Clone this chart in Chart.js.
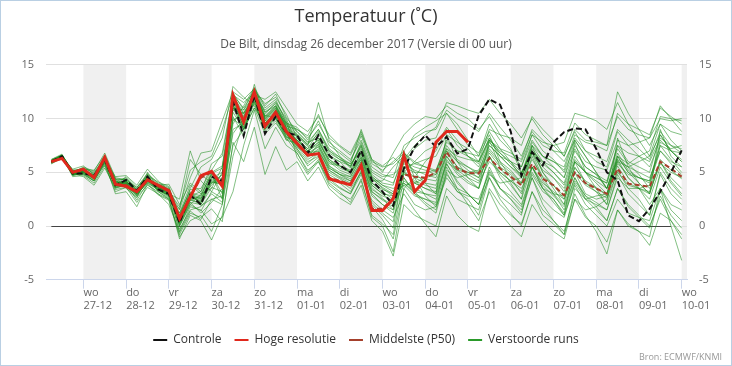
<!DOCTYPE html>
<html>
<head>
<meta charset="utf-8">
<script src="https://cdn.jsdelivr.net/npm/chart.js@4.4.1/dist/chart.umd.min.js"></script>
<style>
html,body{margin:0;padding:0;background:#fff}
#wrap{position:relative;width:732px;height:366px;box-sizing:border-box;border:1px solid #b9cfe3}
#bron{position:absolute;right:9px;bottom:2px;font:9px "Open Sans",sans-serif;color:#999}
</style>
</head>
<body>
<div id="wrap"><canvas id="myChart" width="730" height="364"></canvas><div id="bron">Bron: ECMWF/KNMI</div></div>
<script>
// days shown on the axis (26-12 .. 10-01), runs are 6-hourly from 26-12 06 uur
var dates = ['26-12','27-12','28-12','29-12','30-12','31-12','01-01','02-01','03-01','04-01','05-01','06-01','07-01','08-01','09-01','10-01']
var dayNames = ['di','wo','do','vr','za','zo','ma','di','wo','do','vr','za','zo','ma','di','wo']
var hours = ['06','12','18','00']

var control = [6.0,6.5,4.9,4.9,4.7,6.2,3.8,4.3,3.3,4.6,3.4,3.0, 0.3,2.9,2.0,4.6,4.2,11.6,8.4,12.2,8.6,10.2,8.7, 8.45,6.75,8.45,6.6,5.65,5.0,7.05,4.25,3.2,1.9, 5.35,7.35,8.45,7.35,8.3,6.75,7.2,10.3,11.8,11.3,8.8,4.7,6.9,5.65,7.8,8.75,9.1,9.0,7.2,5.0,4.25,1.0,0.45,1.6,3.2,5.0,7.05]
var hires = [6.0,6.3,5.0,5.3,4.5,6.4,3.9,3.7,3.2,4.3,3.8,3.3, 0.7,2.7,4.7,5.1,3.7,12.2,9.7,12.5,9.3,10.6,8.8, 7.7,6.6,6.75,4.4,4.1,3.85,5.65,1.45,1.45,2.55, 6.6,3.2,4.25,7.8,8.8,8.8,7.8]
var median = [6.0,6.3,5.0,5.2,4.5,6.3,3.9,3.8,3.2,4.3,3.7,3.2, 0.7,2.7,4.5,5.0,3.8,12.0,9.8,12.4,9.4,10.5,8.7, 7.6,6.6,6.8,4.5,4.2,3.9,5.6,1.6,1.6,2.6, 4.8,4.6,4.5,5.0,6.9,5.35,4.95,4.9,6.3,5.35,4.6,3.8,5.8,4.4,3.8,2.85,5.0,4.0,3.5,3.0,5.35,3.95,3.8,3.65,6.0,5.35,4.6]

// verstoorde runs (ensemble members)
var m01 = [6.1,6.6,4.8,4.9,4.3,6.0,3.7,4.2,3.3,4.6,3.4,2.9, 0.6,2.8,2.2,4.2,3.8,11.8,10.0,12.3,9.8,10.8,9.0, 8.0,7.0,7.8,6.0,5.2,4.8,6.6,4.0,3.2,2.5, 5.5,4.5,4.0,3.8,7.0,5.5,4.8,4.2,6.8,5.5,4.8,3.9,6.2,4.6,3.8,2.8,5.4,4.2,3.6,2.8,5.6,4.0,3.5,3.0,6.2,5.2,4.4]
var m02 = [5.9,6.4,5.1,5.4,4.9,6.5,4.2,3.8,2.9,4.1,3.9,3.4, 1.5,4.5,6.8,7.0,9.8,12.5,11.8,12.8,11.0,11.8,9.6, 9.0,8.2,9.5,7.8,7.0,6.2,8.0,5.5,4.8,4.5, 7.5,8.2,8.8,9.0,10.8,10.0,9.5,8.8,10.5,9.2,8.0,6.5,8.8,7.5,7.0,6.8,9.6,8.5,8.0,7.5,10.2,9.0,8.5,8.2,10.0,9.8,10.0]
var m03 = [6.0,6.5,4.6,4.7,4.0,5.6,3.4,3.6,2.6,4.8,3.2,2.5, -1.2,1.0,0.5,-1.3,1.0,6.5,9.8,11.5,10.3,10.1,8.4, 7.2,6.0,6.5,4.8,4.2,3.5,5.0,2.4,1.5,0.8, 3.0,1.5,0.2,-1.0,2.8,1.0,0.0,-0.5,3.5,2.0,1.0,0.2,3.2,1.5,0.5,-0.8,2.5,0.8,0.0,-1.5,1.5,0.2,-0.5,-1.8,1.2,0.5,-0.8]
var m04 = [6.2,6.7,5.0,5.3,5.2,6.6,4.4,4.3,3.6,4.9,4.0,3.6, 0.0,2.0,3.0,3.5,5.5,10.8,10.5,11.6,9.0,10.2,8.0, 8.5,7.5,11.5,8.0,6.5,5.5,7.5,4.5,3.5,2.8, 6.0,7.2,8.0,8.2,10.5,9.5,8.0,6.5,8.5,6.0,4.5,3.0,5.5,3.5,2.2,1.0,3.8,2.0,1.0,0.0,2.5,1.2,0.8,0.5,3.5,2.0,1.5]
var m05 = [5.8,6.3,4.7,5.0,4.5,5.9,3.0,3.2,1.8,3.9,2.9,2.4, -0.8,1.2,0.8,1.6,0.4,7.8,6.0,9.2,4.8,7.4,5.2, 6.0,4.2,5.5,3.5,2.6,2.0,3.8,0.5,-0.5,-2.8, 2.0,1.0,0.5,0.0,3.5,2.5,2.0,1.5,4.8,4.0,4.2,4.5,7.5,6.5,6.0,5.5,8.5,7.8,7.5,7.0,10.5,9.5,9.0,8.5,11.0,10.2,9.5]
var m06 = [6.1,6.4,5.3,5.6,4.8,6.1,4.6,4.7,3.8,5.3,4.2,3.3, 1.2,3.2,1.9,2.5,2.8,9.5,11.2,12.9,11.2,12.3,10.1, 8.8,7.8,8.2,6.6,6.0,5.0,6.8,4.2,4.2,5.5, 6.5,5.0,4.0,3.0,8.5,6.0,4.5,3.5,8.0,5.5,4.0,2.5,7.5,5.0,3.5,2.0,7.8,5.0,3.5,2.0,8.2,5.5,4.0,3.0,9.0,6.5,5.5]
var m07 = [6.0,6.6,4.9,4.6,3.8,5.4,3.5,3.9,2.4,4.0,3.0,2.0, -0.5,1.8,1.5,0.2,0.8,3.2,7.5,10.8,7.2,9.2,7.5, 6.8,5.2,6.0,3.8,3.0,2.5,4.2,1.0,0.2,-0.8, 4.5,3.0,2.0,1.2,5.0,3.2,2.5,1.0,4.5,2.8,2.0,1.0,5.5,3.5,2.5,1.0,6.0,4.0,3.2,2.0,5.2,3.5,2.5,1.0,4.8,3.0,2.0]
var m08 = [5.9,6.5,5.2,5.2,4.4,6.4,4.1,4.5,3.3,4.5,3.8,3.9, 2.0,4.0,3.2,5.8,6.5,12.0,9.0,11.0,8.6,9.6,8.2, 8.2,7.2,8.8,7.0,6.2,5.8,9.0,6.2,5.0,6.8, 8.5,9.5,10.2,10.0,11.2,10.5,10.0,9.0,10.2,8.5,7.2,5.0,7.0,5.5,4.5,3.2,6.0,5.0,4.5,4.0,7.5,6.0,5.5,5.0,8.5,7.0,6.0]
var m09 = [6.0,6.5,4.9,5.0,4.4,6.2,3.8,4.1,3.0,4.3,3.5,3.0, 0.2,2.4,2.8,4.8,2.5,10.2,8.4,12.5,10.4,11.5,10.0, 7.5,6.8,7.0,5.2,4.5,4.0,5.5,3.0,2.0,1.2, 5.0,6.0,7.0,7.5,9.2,8.0,6.5,5.5,8.0,7.2,6.8,6.2,9.0,8.0,7.0,6.0,8.0,6.5,5.0,3.5,6.5,5.0,4.0,3.0,6.0,4.5,3.5]
var m10 = [6.0,6.4,5.0,5.2,4.7,6.3,4.0,4.0,3.2,4.4,3.7,3.2, 0.9,3.5,5.5,6.2,8.2,13.0,12.0,11.2,9.3,10.8,9.5, 7.6,6.5,7.6,5.8,5.6,5.2,7.2,4.6,3.8,3.5, 4.0,3.0,2.5,2.0,5.5,3.5,2.0,0.5,3.2,1.2,0.0,-1.0,2.0,0.5,-0.5,-1.2,2.5,1.5,1.8,2.5,6.0,5.5,6.0,6.5,9.5,8.8,8.5]
var m11 = [6.1,6.5,4.8,5.0,4.6,6.3,4.0,4.2,3.2,4.6,3.6,3.0, 2.5,7.0,4.2,3.2,5.0,11.0,10.8,12.2,11.8,12.5,11.0, 9.5,8.8,10.2,8.5,7.5,6.8,8.8,6.0,5.5,5.8, 6.8,5.8,5.5,5.2,7.8,7.0,6.5,6.0,9.0,8.5,8.2,7.5,10.2,9.0,8.0,6.5,8.8,7.0,6.0,5.5,8.8,7.5,6.5,5.5,8.0,7.0,6.2]
var m12 = [5.9,6.4,4.9,5.1,4.6,6.2,3.9,4.0,3.1,4.5,3.6,3.1, 0.3,2.2,1.2,2.2,3.5,11.2,9.4,13.2,10.0,11.0,9.2, 7.8,6.6,7.4,5.4,4.8,4.4,6.0,3.2,2.4,1.8, 3.8,2.8,2.5,2.2,6.2,4.8,4.0,3.5,6.5,5.0,4.2,3.2,6.5,4.2,3.0,1.5,4.5,2.5,1.5,0.5,3.5,2.0,1.0,0.0,2.5,0.5,-1.2]
var m13 = [6.0,6.6,5.0,5.2,4.5,6.3,3.8,3.9,3.0,4.3,3.4,2.9, 0.4,2.6,2.4,4.4,4.2,11.5,9.6,12.0,9.4,10.4,8.8, 8.0,7.0,8.2,6.4,6.0,5.6,7.6,5.0,4.4,4.0, 6.2,7.5,8.5,9.2,11.5,11.2,10.8,10.5,11.8,10.5,9.5,8.2,10.0,8.5,7.5,6.5,9.0,8.0,7.8,7.5,12.5,10.5,9.0,7.5,9.5,8.0,7.0]
var m14 = [6.0,6.5,5.1,5.3,4.7,6.4,4.1,4.1,3.2,4.5,3.7,3.2, 0.5,2.6,2.6,3.8,4.8,11.0,10.2,12.0,9.6,10.6,8.6, 7.4,6.2,6.8,4.6,4.0,3.2,5.0,2.2,1.2,0.4, 5.2,4.0,3.5,3.0,6.0,5.2,5.0,5.2,7.5,6.5,5.5,4.5,6.8,4.5,3.0,2.0,5.0,3.0,2.5,2.8,6.5,5.8,6.5,7.0,10.2,10.0,9.8]
var m15 = [5.9,6.4,4.8,4.8,4.2,5.8,3.6,3.7,2.8,4.2,3.3,2.7, -1.0,0.5,1.0,-0.5,2.0,7.5,9.0,11.0,9.6,10.4,8.2, 6.8,5.0,6.2,4.0,3.2,2.2,4.4,0.8,0.0,-2.4, 3.5,2.0,1.5,1.8,4.8,3.5,3.0,2.0,5.5,3.5,2.5,1.5,4.5,2.0,0.5,-0.5,3.0,1.0,-0.5,-2.6,1.5,0.0,-0.5,-1.0,3.5,1.5,0.5]
var m16 = [6.1,6.6,5.0,5.1,4.5,6.2,3.9,4.2,3.0,4.4,3.6,3.2, 1.8,5.2,6.0,6.5,9.0,12.2,11.5,12.4,10.6,11.2,9.2, 8.5,7.6,9.0,7.2,6.4,5.4,7.8,5.2,4.6,4.8, 5.8,5.2,4.8,4.5,7.2,6.0,5.5,4.8,7.0,5.8,5.0,4.0,7.0,6.0,5.5,4.5,8.0,6.5,5.0,3.5,6.0,4.5,3.5,2.0,3.5,0.0,-3.2]
var m17 = [6.0,6.5,4.9,5.1,4.5,6.2,3.9,4.0,3.1,4.4,3.6,3.1, 0.4,2.5,2.0,4.0,4.2,11.6,9.8,12.1,9.6,10.6,8.9, 7.9,6.8,7.4,5.6,5.0,4.6,6.4,3.8,3.0,2.8, 4.8,4.6,4.4,4.2,6.5,5.2,4.5,4.0,6.0,5.0,4.2,3.5,5.5,4.0,3.2,2.5,5.0,3.8,3.2,2.6,5.0,3.8,3.5,3.2,5.8,5.0,4.5]
var m18 = [6.1,6.6,5.0,5.0,4.6,6.4,4.0,4.1,3.4,4.6,3.7,3.2, 0.7,3.0,2.6,4.5,5.0,12.2,10.5,12.4,10.0,11.0,9.1, 8.4,7.4,8.0,6.2,5.4,5.0,6.2,3.6,2.6,1.5, 6.0,5.5,5.2,4.8,7.5,6.2,5.5,5.0,7.2,6.0,5.2,4.0,6.8,5.2,4.5,3.5,6.2,5.0,4.2,3.5,6.8,5.2,4.5,4.0,7.0,6.0,5.5]
var m19 = [5.9,6.4,4.8,5.2,4.8,6.1,3.6,3.8,2.8,4.2,3.4,2.8, -0.3,1.5,1.8,3.0,2.2,10.0,9.2,12.0,9.0,10.4,8.6, 7.0,5.8,6.8,5.0,4.4,3.8,5.8,3.2,2.5,2.0, 4.2,3.5,3.0,2.5,5.8,4.2,3.0,2.0,5.2,3.5,2.5,1.2,4.5,2.5,1.5,0.8,4.0,2.5,2.0,1.5,4.5,3.5,3.5,3.8,7.5,7.0,6.8]
var m20 = [6.0,6.5,5.1,5.3,4.4,6.5,4.3,4.4,3.5,4.8,3.9,3.5, 1.0,3.4,3.5,5.2,6.8,12.2,11.0,12.6,10.2,11.2,9.4, 8.6,7.6,8.6,6.8,6.2,5.6,7.4,4.8,4.0,3.8, 7.0,8.5,9.2,9.8,10.5,9.0,7.5,6.8,8.8,7.2,6.0,4.5,7.2,5.8,5.0,4.0,7.0,5.5,4.8,3.5,6.2,4.5,3.5,2.5,5.5,4.0,2.8]
var m21 = [6.1,6.5,4.9,4.9,4.2,5.9,3.7,3.9,2.9,4.1,3.3,2.9, 0.1,2.2,2.0,3.6,3.2,11.0,9.0,11.8,9.2,10.0,8.5, 7.6,6.4,7.2,5.2,4.6,4.2,5.6,2.8,2.0,1.5, 5.0,4.2,3.8,3.5,6.8,5.5,5.0,4.5,7.5,6.5,6.0,5.5,8.5,7.0,6.2,5.0,7.5,6.0,5.5,5.2,8.0,7.5,7.8,8.2,11.2,10.0,8.8]
var m22 = [6.0,6.6,5.0,5.4,5.0,6.3,3.8,4.6,3.6,4.7,4.1,3.7, 0.8,2.9,2.5,4.6,4.4,11.9,10.2,12.5,10.2,11.2,9.6, 9.2,8.0,9.8,7.5,6.8,6.0,8.4,5.8,5.2,6.0, 7.0,4.5,2.8,1.8,4.5,3.2,2.8,2.5,5.0,3.5,2.8,1.8,4.8,3.2,2.5,1.2,4.2,2.8,2.2,1.5,4.8,3.0,2.0,1.0,5.0,3.5,2.5]
var m23 = [5.9,6.4,4.8,5.0,4.6,6.0,4.3,3.5,2.7,3.8,3.2,2.6, 1.6,6.2,4.8,4.0,4.8,9.8,10.6,11.8,9.8,10.2,8.8, 7.2,5.6,6.4,4.4,3.6,3.0,5.2,2.0,1.0,-0.2, 5.5,5.0,5.0,5.2,7.2,6.5,6.2,6.0,8.0,7.0,6.5,6.0,8.5,7.8,7.5,7.8,10.5,10.2,9.8,9.0,11.5,9.5,8.0,6.5,8.5,7.0,6.0]
var m24 = [6.0,6.5,4.9,5.1,4.4,6.6,4.0,4.2,3.2,4.5,3.5,3.0, 0.5,2.7,2.3,4.3,4.0,11.4,9.2,11.6,9.0,10.0,8.3, 8.0,7.2,8.0,6.0,5.6,5.0,6.8,4.4,3.6,3.0, 5.0,4.0,3.5,3.2,6.5,5.0,4.2,3.5,6.5,4.8,3.8,2.5,5.5,3.8,2.8,1.8,4.5,2.8,1.8,0.5,3.5,1.8,0.8,-0.2,2.8,1.0,-0.2]
var m25 = [6.2,6.6,5.1,5.2,4.7,6.2,3.6,4.0,3.0,5.0,3.6,3.3, -0.6,1.4,0.6,2.5,2.0,9.0,9.6,12.2,10.8,11.6,9.8, 6.4,4.8,6.0,4.2,3.5,3.0,4.8,1.8,0.6,-1.2, 3.5,4.5,6.0,7.0,9.0,7.5,6.5,5.8,8.2,6.5,5.5,4.8,7.8,6.5,6.0,5.2,8.2,7.0,6.5,6.0,9.0,8.0,7.2,6.2,8.8,7.5,6.8]
var m26 = [5.8,6.4,4.9,4.8,4.2,6.0,4.4,3.7,3.0,4.0,3.4,2.8, 0.6,2.8,3.2,5.0,5.6,12.4,10.8,12.8,10.6,11.4,9.5, 8.8,7.8,9.0,7.0,6.4,5.8,7.0,4.6,3.8,3.2, 4.5,3.2,2.2,1.5,5.2,4.5,4.8,5.0,7.8,6.8,6.0,5.0,7.0,5.0,3.8,2.5,5.5,4.0,3.5,3.0,6.5,5.0,4.5,4.2,7.5,6.2,5.0]
var m27 = [6.0,6.5,5.0,5.5,5.1,6.8,4.5,4.3,3.4,4.6,3.8,3.4, 0.3,2.4,2.2,4.1,3.9,11.2,9.9,12.1,9.9,10.9,9.1, 7.4,6.6,7.0,5.4,4.8,4.2,6.0,3.4,2.8,2.4, 4.0,3.2,3.0,2.8,5.8,4.0,3.0,2.0,4.5,2.5,1.2,0.0,3.2,1.0,0.2,-0.8,3.5,2.5,2.8,3.0,6.2,5.5,5.0,4.5,7.0,5.8,4.8]
var m28 = [6.1,6.5,4.7,4.9,4.4,5.7,3.2,3.6,2.2,3.6,3.0,2.5, 1.2,3.8,3.0,4.8,3.0,8.6,10.0,12.6,11.4,12.0,10.4, 8.2,7.0,7.6,5.6,4.8,4.6,6.2,3.8,3.0,2.2, 6.8,6.0,5.5,5.0,8.0,7.0,6.8,6.5,9.5,8.0,7.0,5.5,8.0,6.5,5.5,4.5,7.2,5.5,4.8,4.2,7.5,6.8,6.5,6.0,8.2,7.5,7.2]
var m29 = [5.9,6.5,5.0,5.1,4.5,6.3,3.9,4.1,3.2,4.4,3.6,3.1, 0.0,2.0,1.4,3.2,2.6,10.6,9.0,11.4,8.8,9.8,8.0, 7.7,6.9,7.8,6.2,5.6,5.0,6.4,4.0,3.4,3.0, 3.8,4.0,4.5,4.8,7.0,6.0,5.2,4.5,6.5,4.5,3.2,2.0,5.0,3.5,3.0,2.8,6.0,5.0,4.5,4.0,7.2,5.8,4.8,3.5,6.0,4.2,3.0]
var m30 = [6.0,6.6,5.2,5.3,4.6,6.1,3.8,3.9,3.1,4.3,3.5,3.0, 0.9,3.1,2.8,4.9,5.4,12.0,10.4,12.3,10.1,11.1,9.3, 9.0,8.4,10.4,8.2,7.4,6.6,8.6,6.2,5.6,6.4, 5.5,5.8,6.2,6.5,8.5,7.8,7.2,6.0,8.2,6.8,5.8,4.8,7.5,6.0,5.0,3.8,6.5,5.0,4.0,3.0,5.8,4.8,4.5,4.2,7.8,7.2,7.5]
var members = [m01,m02,m03,m04,m05,m06,m07,m08,m09,m10,m11,m12,m13,m14,m15,m16,m17,m18,m19,m20,m21,m22,m23,m24,m25,m26,m27,m28,m29,m30]

var labels = []
for (var i = 0; i < control.length; i++) {
  labels.push(dates[Math.floor((i + 1) / 4)] + ' ' + hours[i % 4])
}

var FONT = '"Open Sans", sans-serif'

var datasets = [
  {label:'Controle', data:control, borderColor:'#111', borderWidth:2, borderDash:[6,3], order:1},
  {label:'Hoge resolutie', data:hires, borderColor:'#e0281c', borderWidth:3, order:0},
  {label:'Middelste (P50)', data:median, borderColor:'#a5402c', borderWidth:2, borderDash:[5,3], order:2}
]
members.forEach(function(m, k){
  datasets.push({label: k == 0 ? 'Verstoorde runs' : 'run ' + (k+1), data:m, borderColor:'rgba(30,140,30,0.55)', borderWidth:1, order:3})
})

var shading = {
  id:'shading',
  beforeDraw:function(chart){
    var ctx = chart.ctx, a = chart.chartArea, x = chart.scales.x
    ctx.save()
    ctx.fillStyle = '#f0f0f0'
    for (var d = 1; d < dates.length; d += 2) {
      var x0 = Math.max(x.getPixelForValue(4*d - 1), a.left)
      var x1 = Math.min(x.getPixelForValue(4*d + 3), a.right)
      if (x1 > x0) ctx.fillRect(x0, a.top, x1 - x0, a.bottom - a.top)
    }
    ctx.restore()
  },
  beforeDatasetsDraw:function(chart){
    var ctx = chart.ctx, x = chart.scales.x, y = chart.scales.y
    var y0 = Math.round(y.getPixelForValue(0)) + 0.5
    ctx.save()
    ctx.strokeStyle = '#444'
    ctx.lineWidth = 1
    ctx.beginPath()
    ctx.moveTo(x.getPixelForValue(0), y0)
    ctx.lineTo(x.getPixelForValue(58), y0)
    ctx.stroke()
    ctx.restore()
  }
}

var ctx = document.getElementById('myChart').getContext('2d')
var chart = new Chart(ctx, {
  type:'line',
  data:{labels:labels, datasets:datasets},
  plugins:[shading],
  options:{
    responsive:false,
    animation:false,
    devicePixelRatio:1,
    elements:{point:{radius:0}, line:{tension:0, fill:false}},
    layout:{padding:{left:0, right:0, top:0, bottom:9}},
    scales:{
      x:{
        offset:true,
        afterBuildTicks:function(axis){
          var t = []
          for (var d = 1; d < dates.length; d++) t.push({value: 4*d - 1})
          axis.ticks = t
        },
        afterFit:function(s){ s.height = s.height + 11 },
        ticks:{
          autoSkip:false, maxRotation:0, align:'start', padding:-2,
          color:'#666', font:{family:FONT, size:11, lineHeight:1.15},
          callback:function(v){ var d = (v + 1) / 4; return [dayNames[d], dates[d]] }
        },
        grid:{drawOnChartArea:false, drawTicks:true, tickLength:9, color:'#ccd6eb'},
        border:{color:'#ccd6eb'}
      },
      y:{
        position:'left', min:-5, max:15,
        afterFit:function(s){ s.width = 45 },
        ticks:{stepSize:5, color:'#666', padding:12, font:{family:FONT, size:11}},
        grid:{color:'#e0e0e0', drawTicks:false},
        border:{display:false}
      },
      y2:{
        position:'right', min:-5, max:15,
        afterFit:function(s){ s.width = 44 },
        ticks:{stepSize:5, color:'#666', padding:12, font:{family:FONT, size:11}},
        grid:{display:false, drawTicks:false},
        border:{display:false}
      }
    },
    plugins:{
      tooltip:{enabled:false},
      title:{display:true, text:'Temperatuur (˚C)', color:'#333', font:{family:FONT, size:18, weight:'normal'}, padding:{top:5, bottom:6}},
      subtitle:{display:true, text:'De Bilt, dinsdag 26 december 2017 (Versie di 00 uur)', color:'#555', font:{family:FONT, size:12}, padding:{top:4, bottom:13}},
      legend:{
        position:'bottom',
        labels:{
          usePointStyle:true, pointStyle:'line', pointStyleWidth:14, padding:13,
          color:'#333', font:{family:FONT, size:12},
          filter:function(item){ return item.datasetIndex < 4 },
          sort:function(a, b){ return a.datasetIndex - b.datasetIndex },
          generateLabels:function(chart){
            var items = Chart.defaults.plugins.legend.labels.generateLabels(chart)
            items.forEach(function(it){
              it.lineWidth = 2
              if (it.datasetIndex == 3) it.strokeStyle = '#2a9a2a'
            })
            return items
          }
        }
      }
    }
  }
})
</script>
</body>
</html>
